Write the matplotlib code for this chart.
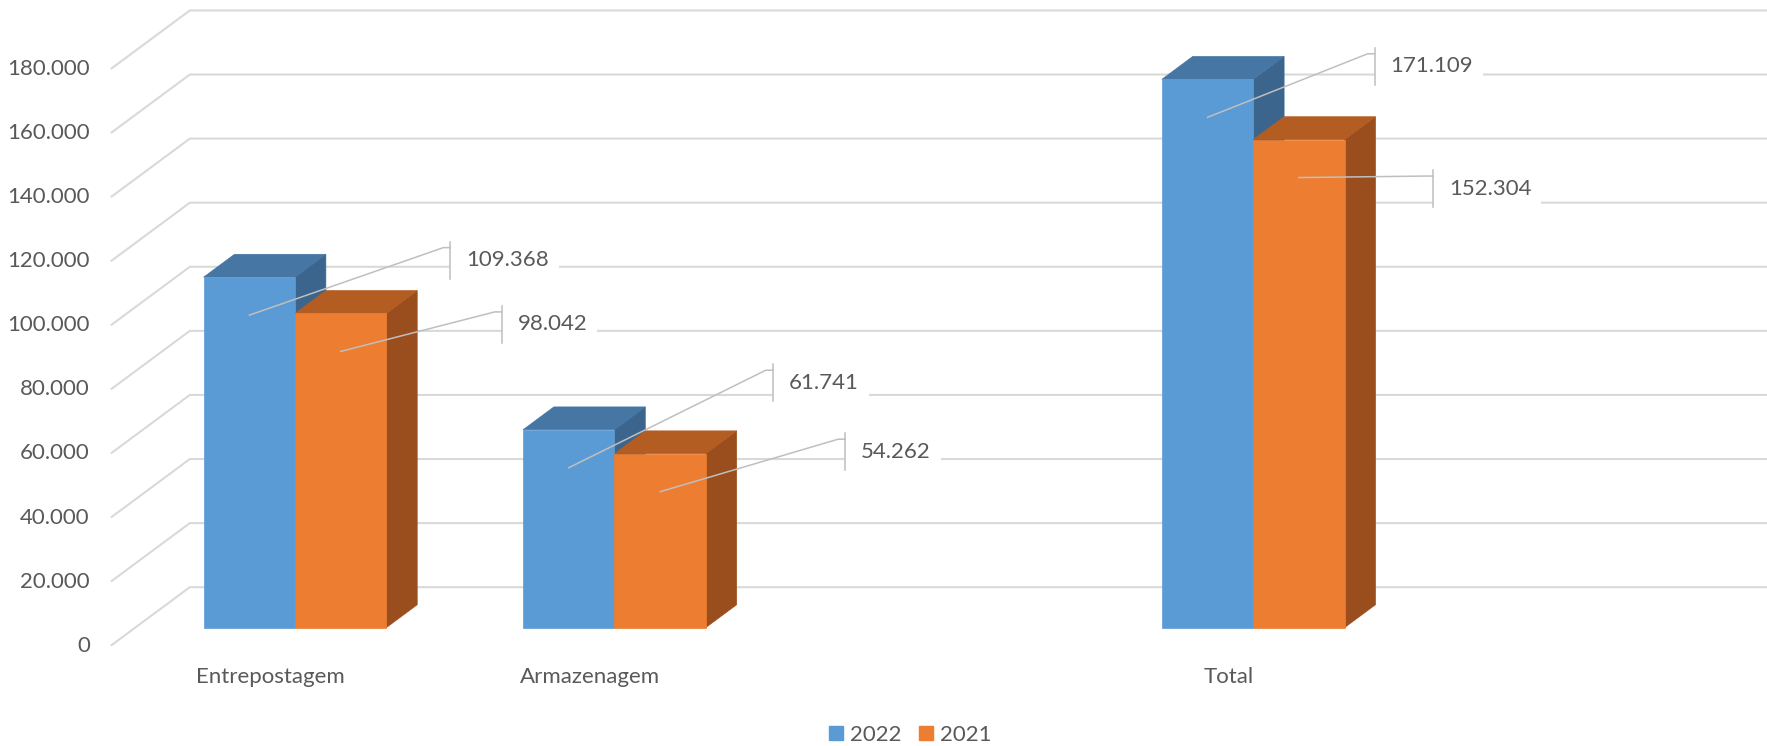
import matplotlib.pyplot as plt
import numpy as np
from matplotlib.patches import Polygon, Rectangle, Patch

# Dados
CATEGORIAS = ["Entrepostagem", "Armazenagem", "", "Total", ""]
SERIES = ["2022", "2021"]
VALORES_2022 = [109368, 61741, np.nan, 171109, np.nan]
VALORES_2021 = [98042, 54262, np.nan, 152304, np.nan]
Y_TICKS = np.arange(0, 180001, 20000)

# Estilo
COR_FRENTE = ["#5B9BD5", "#ED7D31"]
COR_TOPO = ["#4676A3", "#B45D23"]
COR_LADO = ["#3B658C", "#9A4D1D"]
COR_GRADE = "#D9D9D9"
COR_TEXTO = "#595959"
COR_GUIA = "#BFBFBF"
FONTE = "Lato"
TAM = 16

DX, DY = 0.2473, 18260   # profundidade da parede (categoria / valor)
Z0, Z1 = 0.31, 0.70      # profundidade das barras (fração da parede)
LARGURA = 0.286

# deslocamento (px) da caixa do rótulo em relação ao topo da face frontal
DESLOC = [[(201, 17), (204, 47), None, (167, 13), None],
          [(161, -11), (185, 2), None, (134, -49), None]]

plt.rcParams['font.family'] = [FONTE, 'DejaVu Sans']

fig = plt.figure(figsize=(17.67, 7.46), dpi=100)
ax = fig.add_axes([0, 0, 1, 1])
ax.set_xlim(-0.847, 4.685)
ax.set_ylim(-31304, 201520)
ax.axis('off')


def px(x, y, dx, dy):
    d = ax.transData.transform((x, y)) + np.array([dx, dy])
    return ax.transData.inverted().transform(d)


def p(x, y, z):
    return (x + z * DX, y + z * DY)


n = len(CATEGORIAS)

# Grade (parede lateral + fundo)
for v in Y_TICKS:
    xa, ya = p(-0.5, v, 0)
    xb, yb = p(-0.5, v, 1)
    xc, _ = p(n - 0.5, v, 1)
    ax.plot([xa, xb, xc], [ya, yb, yb], color=COR_GRADE, lw=1.5, zorder=1,
            solid_capstyle='butt')
    tx, ty = px(-0.5, v, -21, 0)
    ax.text(tx, ty, f"{v:,}".replace(",", "."), ha='right', va='center',
            fontsize=TAM, color=COR_TEXTO)

# Rótulos das categorias
for i, cat in enumerate(CATEGORIAS):
    if cat:
        tx, ty = px(i, 0, 0, -31)
        ax.text(tx, ty, cat, ha='center', va='center', fontsize=TAM, color=COR_TEXTO)

renderer = fig.canvas.get_renderer()

# Barras 3D
for s, vals in enumerate([VALORES_2022, VALORES_2021]):
    for i, v in enumerate(vals):
        if np.isnan(v):
            continue
        x0 = i - LARGURA + s * LARGURA
        x1 = x0 + LARGURA
        frente = [p(x0, 0, Z0), p(x1, 0, Z0), p(x1, v, Z0), p(x0, v, Z0)]
        topo = [p(x0, v, Z0), p(x1, v, Z0), p(x1, v, Z1), p(x0, v, Z1)]
        lado = [p(x1, 0, Z0), p(x1, v, Z0), p(x1, v, Z1), p(x1, 0, Z1)]
        zb = 2 + s * 0.1
        ax.add_patch(Polygon(lado, closed=True, fc=COR_LADO[s], ec=COR_LADO[s], lw=0.5, zorder=zb))
        ax.add_patch(Polygon(topo, closed=True, fc=COR_TOPO[s], ec=COR_TOPO[s], lw=0.5, zorder=zb))
        ax.add_patch(Polygon(frente, closed=True, fc=COR_FRENTE[s], ec=COR_FRENTE[s], lw=0.5, zorder=zb))

        # rótulo com linha guia
        cx, cy = p((x0 + x1) / 2, v, Z0)
        dx, dy = DESLOC[s][i]
        a0 = px(cx, cy, 0, -38)
        cotovelo = px(cx, cy, dx - 7, dy + 12.5)
        canto = px(cx, cy, dx, dy + 12.5)
        t_top = px(cx, cy, dx, dy + 18.5)
        t_bot = px(cx, cy, dx, dy - 18.5)
        ax.plot([a0[0], cotovelo[0], canto[0]], [a0[1], cotovelo[1], canto[1]],
                color=COR_GUIA, lw=1.1, zorder=4)
        ax.plot([t_top[0], t_bot[0]], [t_top[1], t_bot[1]], color=COR_GUIA, lw=1.1, zorder=4)
        pos = px(cx, cy, dx + 16, dy)
        t = ax.text(pos[0], pos[1], f"{int(v):,}".replace(",", "."), ha='left', va='center',
                    fontsize=TAM, color=COR_TEXTO, zorder=5)
        tw = t.get_window_extent(renderer=renderer).width
        b0 = px(cx, cy, dx, dy - 18.5)
        b1 = px(cx, cy, dx + 16 + tw + 10, dy + 18.5)
        ax.add_patch(Rectangle((b0[0], b0[1]), b1[0] - b0[0], b1[1] - b0[1],
                               fc='white', ec='none', zorder=3))

# Legenda
handles = [Patch(color=COR_FRENTE[k], label=SERIES[k]) for k in range(2)]
fig.legend(handles=handles, loc='center', bbox_to_anchor=(0.515, 0.015), ncol=2,
           frameon=False, fontsize=TAM, labelcolor=COR_TEXTO, handlelength=0.63,
           handleheight=0.63, handletextpad=0.3, columnspacing=0.8, borderpad=0)

fig.savefig("out.png", dpi=100)
